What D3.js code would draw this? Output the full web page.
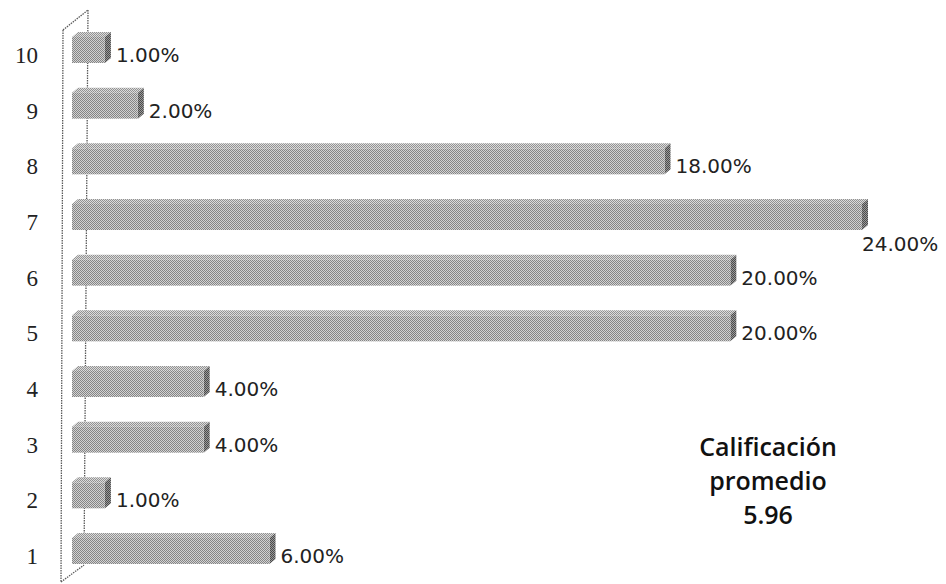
<!DOCTYPE html>
<html>
<head>
<meta charset="utf-8">
<script src="https://cdn.jsdelivr.net/npm/d3@7"></script>
<style>
  body { margin: 0; background: #fff; }
</style>
</head>
<body>
<div id="chart"></div>
<script>
// Datos
var categorias = ["10", "9", "8", "7", "6", "5", "4", "3", "2", "1"];
var porcentajes = [1, 2, 18, 24, 20, 20, 4, 4, 1, 6];
var nota = ["Calificación", "promedio", "5.96"];

const width = 946, height = 584;
const depth = 6; // profundidad del efecto 3D

var svg = d3.select("#chart")
            .append("svg")
            .attr("width", width)
            .attr("height", height);

// motivos de trama para simular el gris escaneado
var defs = svg.append("defs");
function trama(id, claro, oscuro) {
  var p = defs.append("pattern")
    .attr("id", id)
    .attr("width", 2).attr("height", 2)
    .attr("patternUnits", "userSpaceOnUse");
  p.append("rect").attr("width", 2).attr("height", 2).attr("fill", claro);
  p.append("rect").attr("width", 1).attr("height", 1).attr("fill", oscuro);
  p.append("rect").attr("x", 1).attr("y", 1).attr("width", 1).attr("height", 1).attr("fill", oscuro);
}
trama("frente", "#d2d2d2", "#858585");
trama("lado", "#9a9a9a", "#4a4a4a");
trama("arriba", "#dcdcdc", "#929292");

// escalas
var x = d3.scaleLinear()
  .domain([0, 24])
  .range([72, 862]);

var y = d3.scaleBand()
  .domain(categorias)
  .range([37, 564])
  .paddingInner(0.533)
  .paddingOuter(0);

// pared lateral (marco 3D)
var x0 = x(0);
var yTop = y.range()[0], yBot = y.range()[1];
var trazo = function(sel) {
  return sel.attr("fill", "none")
    .attr("stroke", "#5a5a5a")
    .attr("stroke-width", 1.3)
    .attr("stroke-dasharray", "1.5,1");
};
var pared = svg.append("g").call(trazo);

pared.append("line") // línea trasera
  .attr("x1", x0 + 16).attr("y1", yTop - 27)
  .attr("x2", x0 + 12).attr("y2", yBot + 1);
pared.append("line") // borde superior
  .attr("x1", x0 - 9).attr("y1", yTop - 7)
  .attr("x2", x0 + 16).attr("y2", yTop - 27);
pared.append("line") // borde inferior
  .attr("x1", x0 - 11).attr("y1", yBot + 18)
  .attr("x2", x0 + 12).attr("y2", yBot + 1);

// barras
var barras = svg.append("g");
var datos = categorias.map(function(c, i) { return { cat: c, val: porcentajes[i] }; });

var g = barras.selectAll("g")
  .data(datos)
  .join("g");

// cara superior
g.append("polygon")
  .attr("fill", "url(#arriba)")
  .attr("points", function(d) {
    var a = x(0), b = x(d.val), t = y(d.cat);
    return [[a, t], [a + depth, t - depth + 1], [b + depth, t - depth + 1], [b, t]].join(" ");
  });

// cara lateral
g.append("polygon")
  .attr("fill", "url(#lado)")
  .attr("points", function(d) {
    var b = x(d.val), t = y(d.cat), h = y.bandwidth();
    return [[b, t], [b + depth, t - depth + 1], [b + depth, t + h - depth + 1], [b, t + h]].join(" ");
  });

// cara frontal
g.append("rect")
  .attr("fill", "url(#frente)")
  .attr("x", x(0))
  .attr("y", function(d) { return y(d.cat); })
  .attr("width", function(d) { return x(d.val) - x(0); })
  .attr("height", y.bandwidth());

// línea frontal de la pared (delante de las barras)
svg.append("line").call(trazo)
  .attr("x1", x0 - 9).attr("y1", yTop - 7)
  .attr("x2", x0 - 11).attr("y2", yBot + 18);

// etiquetas de categoría
svg.append("g")
  .selectAll("text")
  .data(categorias)
  .join("text")
  .attr("x", 38)
  .attr("y", function(d) { return y(d) + y.bandwidth(); })
  .attr("text-anchor", "end")
  .style("font-family", "Liberation Serif")
  .style("font-size", "23px")
  .style("fill", "#222")
  .text(function(d) { return d; });

// etiquetas de valor
svg.append("g")
  .selectAll("text")
  .data(datos)
  .join("text")
  .style("font-family", "DejaVu Sans")
  .style("font-size", "20px")
  .style("fill", "#222")
  .text(function(d) { return d.val.toFixed(2) + "%"; })
  .each(function(d) {
    var t = d3.select(this);
    var w = this.getComputedTextLength();
    var xl = x(d.val) + depth + 5;
    var yl = y(d.cat) + y.bandwidth() - 1;
    if (xl + w > width - 2) { // no cabe: se baja bajo la barra
      xl = x(d.val);
      yl = y(d.cat) + y.bandwidth() + 21;
    }
    t.attr("x", xl).attr("y", yl);
  });

// nota: calificación promedio
svg.append("g")
  .selectAll("text")
  .data(nota)
  .join("text")
  .attr("x", 768)
  .attr("y", function(d, i) { return 456 + i * 34; })
  .attr("text-anchor", "middle")
  .style("font-family", "Open Sans")
  .style("font-weight", "600")
  .style("font-size", "25px")
  .style("fill", "#111")
  .text(function(d) { return d; });
</script>
</body>
</html>
